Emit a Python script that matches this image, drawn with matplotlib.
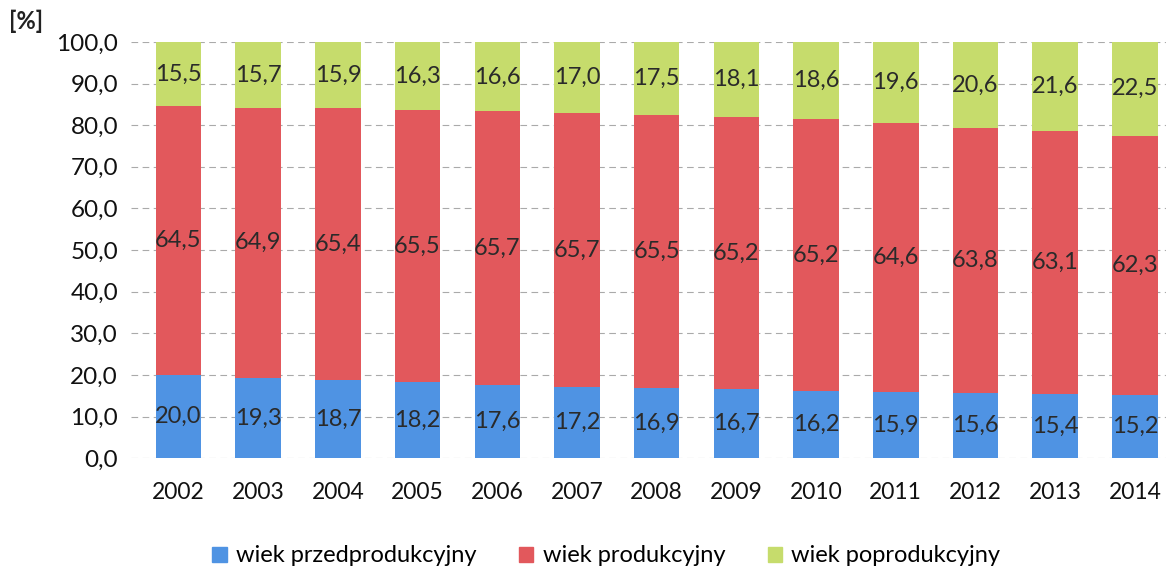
import matplotlib
matplotlib.use("Agg")
import matplotlib.pyplot as plt
from matplotlib.patches import Patch

years = [str(y) for y in range(2002, 2015)]
przed = [20.0, 19.3, 18.7, 18.2, 17.6, 17.2, 16.9, 16.7, 16.2, 15.9, 15.6, 15.4, 15.2]
prod = [64.5, 64.9, 65.4, 65.5, 65.7, 65.7, 65.5, 65.2, 65.2, 64.6, 63.8, 63.1, 62.3]
popr = [15.5, 15.7, 15.9, 16.3, 16.6, 17.0, 17.5, 18.1, 18.6, 19.6, 20.6, 21.6, 22.5]
names = ["wiek przedprodukcyjny", "wiek produkcyjny", "wiek poprodukcyjny"]
colors = ["#4f93e3", "#e2585c", "#c6dc6c"]

def fmt(v):
	return f"{v:.1f}".replace(".", ",")

plt.rcParams['font.family'] = ['Lato', 'DejaVu Sans']

fig = plt.figure(figsize=(11.66, 5.72), dpi=100)
ax = fig.add_axes([0.112, 0.199, 0.888, 0.7276])

x = list(range(len(years)))
bottom = [0.0] * len(years)
for vals, c in zip([przed, prod, popr], colors):
	ax.bar(x, vals, 0.57, bottom=bottom, color=c, zorder=2)
	for i, v in enumerate(vals):
		ax.text(i, bottom[i] + v / 2, fmt(v), ha="center", va="center",
			fontsize=17, color="#2a2a2a", zorder=3)
	bottom = [b + v for b, v in zip(bottom, vals)]

ax.set_xlim(-0.6, 12.39)
ax.set_ylim(0, 100)
ax.set_yticks(range(0, 101, 10))
ax.set_yticklabels([fmt(v) for v in range(0, 101, 10)], fontsize=17.5)
ax.set_xticks(x)
ax.set_xticklabels(years, fontsize=16.5)
ax.tick_params(axis="both", length=0, colors="#111111")
ax.tick_params(axis="y", pad=9)
ax.tick_params(axis="x", pad=17)
ax.grid(axis="y", color="#aaaaaa", linestyle=(0, (6, 4)), linewidth=0.8, zorder=0)
for s in ax.spines.values():
	s.set_visible(False)

fig.text(0.008, 0.962, "[%]", fontsize=17, fontweight="bold", color="#222222", va="center")

handles = [Patch(color=c) for c in colors]
fig.legend(handles, names, loc="center", bbox_to_anchor=(0.52, 0.028), ncol=3,
	frameon=False, fontsize=17, handlelength=0.6, handleheight=0.6,
	columnspacing=1.8, handletextpad=0.4)

fig.savefig("out.png", dpi=100)
